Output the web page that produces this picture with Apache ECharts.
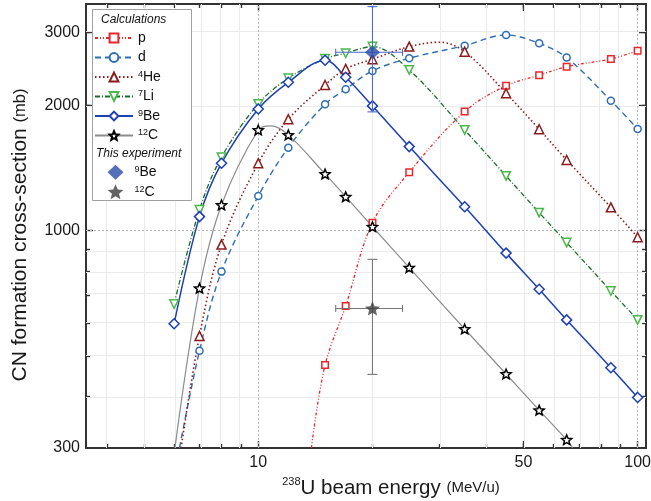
<!DOCTYPE html>
<html><head><meta charset="utf-8">
<script src="https://cdn.jsdelivr.net/npm/echarts@6/dist/echarts.min.js"></script>
<style>html,body{margin:0;padding:0;background:#fff}#c{width:651px;height:501px}</style>
</head><body><div id="c"></div>
<script>
// ---------- data ----------
// marker energies (MeV/u) and cross-sections (mb)
const pE  = [15,17,20,25,35,45,55,65,85,100];
const pV  = [475,659,1045,1382,1934,2232,2365,2481,2589,2711];
const dE  = [7,8,10,12,15,17,20,25,35,45,55,65,85,100];
const dV  = [514,797,1212,1584,2014,2189,2423,2599,2787,2957,2824,2608,2055,1757];
const heE = [7,8,10,12,15,17,20,25,35,45,55,65,85,100];
const heV = [558,926,1453,1854,2241,2450,2585,2772,2695,2141,1754,1479,1138,964];
const liE = [6,7,8,10,12,15,17,20,25,35,45,55,65,85,100];
const liV = [666,1123,1502,2018,2326,2590,2672,2772,2436,1747,1354,1105,936,716,610];
const beE = [6,7,8,10,12,15,17,20,25,35,45,55,65,85,100];
const beV = [597,1081,1453,1963,2275,2571,2339,1996,1593,1142,883,723,610,468,397];
const cE  = [7,8,10,12,15,17,20,25,35,45,55,65];
const cV  = [727,1153,1747,1700,1369,1207,1022,815,580,452,370,314];
// extra points on the calculated curves (no marker)
const pCurveE  = [13.8];      const pCurveV  = [300];
const dCurveE  = [6.2];       const dCurveV  = [300];
const heCurveE = [6.26, 30];  const heCurveV = [300, 2840];
const cCurveE  = [6.03, 10.8, 67.5]; const cCurveV = [300, 1786, 300];
// this experiment: energy, value, energy range, value range
const exBeE = 20, exBeV = 2686, exBeELo = 16, exBeEHi = 24, exBeVLo = 1931, exBeVHi = 3460;
const exCE  = 20, exCV  = 650,  exCELo  = 16, exCEHi  = 24, exCVLo  = 451,  exCVHi  = 853;
// ticks
const xLabelTicks = [10, 50, 100];
const xMinorTicks = [4,5,6,7,8,9,20,30,40,50,60,70,80,90];
const xDottedGrid = [10, 100];
const yLabelTicks = [300, 1000, 2000, 3000];
const yMajorTicks = [1000, 2000, 3000];
const yMinorTicks = [400,500,600,700,800,900,2000,3000];
const yDottedGrid = [1000];
const xRange = [3.515, 105.2];
const yRange = [300, 3510];

// ---------- chart ----------
const L = v => Math.log10(v);
const F = 'Liberation Sans, Arial, Helvetica, sans-serif';
const STAR = 'path://M0,-10L2.645,-3.641L9.511,-3.09L4.28,1.391L5.878,8.09L0,4.5L-5.878,8.09L-4.28,1.391L-9.511,-3.09L-2.645,-3.641Z';
const fmt = v => String(Math.round(Math.pow(10, v)));

function pts(E, V, cE2, cV2) {
  const a = E.map((e, i) => ({ value: [L(e), L(V[i])] }));
  (cE2 || []).forEach((e, i) => a.push({ value: [L(e), L(cV2[i])], symbol: 'none' }));
  a.sort((u, w) => u.value[0] - w.value[0]);
  return a;
}
function calc(name, data, sym, size, color, lineColor, lineType, lineWidth, rot) {
  return {
    name, type: 'line', data, symbol: sym, symbolSize: size, symbolRotate: rot || 0,
    symbolKeepAspect: true, showAllSymbol: true, smooth: 0.35,
    xAxisIndex: 0, yAxisIndex: 0, z: 3,
    itemStyle: { color: '#fff', borderColor: color, borderWidth: 1.5 },
    lineStyle: { color: lineColor, type: lineType, width: lineWidth },
    emphasis: { disabled: true }
  };
}
function errBar(name, color, rec) {
  return {
    name, type: 'custom', xAxisIndex: 0, yAxisIndex: 0, z: 6, silent: true, clip: false,
    data: [rec],
    renderItem: (params, api) => {
      const xv = api.value(0), yv = api.value(1);
      const c = api.coord([xv, yv]);
      const xl = api.coord([api.value(2), yv]), xh = api.coord([api.value(3), yv]);
      const yl = api.coord([xv, api.value(4)]), yh = api.coord([xv, api.value(5)]);
      const seg = (x1, y1, x2, y2) => ({ type: 'polyline', shape: { points: [[x1, y1], [x2, y2]] },
        style: { stroke: color, lineWidth: 1.1, fill: null } });
      return { type: 'group', children: [
        seg(xl[0], c[1], xh[0], c[1]),
        seg(c[0], yl[1], c[0], yh[1]),
        seg(c[0] - 5, yl[1], c[0] + 5, yl[1]), seg(c[0] - 5, yh[1], c[0] + 5, yh[1]),
        seg(xl[0], c[1] - 3.5, xl[0], c[1] + 3.5), seg(xh[0], c[1] - 3.5, xh[0], c[1] + 3.5)
      ] };
    }
  };
}

const X0 = L(xRange[0]), X1 = L(xRange[1]), Y0 = L(yRange[0]), Y1 = L(yRange[1]);
const AX = { color: '#333', width: 2 };
const TK = { color: '#333', width: 1.4 };
function xAx(pos, ticks, len, withLine, labels) {
  return { type: 'value', position: pos, min: X0, max: X1, gridIndex: 0,
    axisLine: { show: withLine, onZero: false, lineStyle: AX },
    axisTick: { show: true, inside: true, length: len, customValues: ticks.map(L), lineStyle: TK },
    axisLabel: labels ? { show: true, customValues: labels.map(L), formatter: fmt, fontSize: 16, fontFamily: F, color: '#1a1a1a', margin: 7 } : { show: false },
    splitLine: { show: false }, minorTick: { show: false } };
}
function yAx(pos, ticks, len, withLine, labels) {
  return { type: 'value', position: pos, min: Y0, max: Y1, gridIndex: 0,
    axisLine: { show: withLine, onZero: false, lineStyle: AX },
    axisTick: { show: true, inside: true, length: len, customValues: ticks.map(L), lineStyle: TK },
    axisLabel: labels ? { show: true, customValues: labels.map(L), formatter: fmt, fontSize: 16, fontFamily: F, color: '#1a1a1a', margin: 6 } : { show: false },
    splitLine: { show: false }, minorTick: { show: false } };
}

const gridLines = [];
xMinorTicks.forEach(v => gridLines.push({ xAxis: L(v), lineStyle: { color: '#ebebeb', type: 'solid', width: 1 } }));
yMinorTicks.forEach(v => gridLines.push({ yAxis: L(v), lineStyle: { color: '#ebebeb', type: 'solid', width: 1 } }));
xDottedGrid.forEach(v => gridLines.push({ xAxis: L(v), lineStyle: { color: '#b5b5b5', type: [2, 2], width: 1 } }));
yDottedGrid.forEach(v => gridLines.push({ yAxis: L(v), lineStyle: { color: '#b5b5b5', type: [2, 2], width: 1 } }));

const legendNames = {
  p: '{n|p}', d: '{n|d}', '4He': '{s|4}{n|He}', '7Li': '{s|7}{n|Li}', '9Be': '{s|9}{n|Be}', '12C': '{s|12}{n|C}',
  exp9Be: '{g|}{s|9}{n|Be}', exp12C: '{g|}{s|12}{n|C}'
};
const legText = { fontFamily: F, color: '#111', fontSize: 14, lineHeight: 14,
  rich: { n: { fontSize: 14, lineHeight: 14, fontFamily: F, color: '#111' },
          s: { fontSize: 9, lineHeight: 8, verticalAlign: 'top', fontFamily: F, color: '#111' },
          g: { width: 6, lineHeight: 14 } } };

const option = {
  animation: false,
  backgroundColor: '#fff',
  grid: { left: 86, right: 5, top: 4, bottom: 53, outerBoundsMode: 'none', containLabel: false },
  xAxis: [ xAx('bottom', xLabelTicks, 7, true, xLabelTicks), xAx('bottom', xMinorTicks, 4, false, null),
           xAx('top', xLabelTicks, 7, true, null), xAx('top', xMinorTicks, 4, false, null) ],
  yAxis: [ yAx('left', yMajorTicks, 7, true, yLabelTicks), yAx('left', yMinorTicks, 4, false, null),
           yAx('right', yMajorTicks, 7, true, null), yAx('right', yMinorTicks, 4, false, null) ],
  legend: [
    { data: ['p', 'd', '4He', '7Li', '9Be', '12C'], orient: 'vertical', left: 94, top: 31, padding: 0,
      itemWidth: 38, itemHeight: 11, itemGap: 5.5, selectedMode: false, z: 6,
      formatter: n => legendNames[n], textStyle: legText },
    { data: ['exp9Be', 'exp12C'], orient: 'vertical', left: 107.5, top: 164.8, padding: 0,
      itemWidth: 16, itemHeight: 15, itemGap: 4.4, selectedMode: false, z: 6,
      formatter: n => legendNames[n], textStyle: legText }
  ],
  graphic: [
    { type: 'rect', z: 5, shape: { x: 92.5, y: 9.5, width: 99, height: 191 }, style: { fill: '#fff', stroke: '#a0a0a0', lineWidth: 1 } },
    { type: 'text', z: 7, x: 101, y: 20, style: { text: 'Calculations', fontFamily: F, fontSize: 12, fontStyle: 'italic', fill: '#111', align: 'left', verticalAlign: 'middle' } },
    { type: 'text', z: 7, x: 96, y: 153.5, style: { text: 'This experiment', fontFamily: F, fontSize: 12, fontStyle: 'italic', fill: '#111', align: 'left', verticalAlign: 'middle' } },
    { type: 'text', z: 7, x: 391, y: 488, style: { text: '{s|238}{t|U beam energy }{m|(MeV/u)}', align: 'center', verticalAlign: 'middle',
        rich: { t: { fontSize: 20.5, lineHeight: 24, fontFamily: F, fill: '#1a1a1a' }, m: { fontSize: 15, lineHeight: 24, fontFamily: F, fill: '#1a1a1a' },
                s: { fontSize: 11, lineHeight: 14, verticalAlign: 'top', fontFamily: F, fill: '#1a1a1a' } } } },
    { type: 'text', z: 7, x: 20, y: 235, rotation: Math.PI / 2, style: { text: '{t|CN formation cross-section }{m|(mb)}', align: 'center', verticalAlign: 'middle',
        rich: { t: { fontSize: 21, lineHeight: 24, fontFamily: F, fill: '#1a1a1a' }, m: { fontSize: 16.5, lineHeight: 24, fontFamily: F, fill: '#1a1a1a' } } } }
  ],
  series: [
    { name: 'grid', type: 'line', data: [[L(10), L(1000)]], showSymbol: false, symbol: 'none', lineStyle: { width: 0 }, z: 1, silent: true,
      markLine: { z: 1, silent: true, symbol: ['none', 'none'], label: { show: false }, animation: false, data: gridLines } },
    calc('p',   pts(pE, pV, pCurveE, pCurveV),    'rect',     6.5, '#e8262a', '#e8262a', [3, 2, 1, 2, 1, 2], 1.3),
    calc('d',   pts(dE, dV, dCurveE, dCurveV),    'circle',   7,   '#2f6db5', '#2f6db5', [6, 4], 1.4),
    calc('4He', pts(heE, heV, heCurveE, heCurveV), 'triangle', 9,  '#8b1c1c', '#8b1c1c', [1.5, 2.5], 1.6),
    calc('7Li', pts(liE, liV),                    'triangle', 8.5, '#4cb84c', '#1b6e2a', [5, 2, 1, 2], 1.3, 180),
    calc('9Be', pts(beE, beV),                    'diamond',  10,  '#1d3fb8', '#1d3fb8', 'solid', 1.5),
    calc('12C', pts(cE, cV, cCurveE, cCurveV),    STAR,       10,  '#000',    '#8c8c8c', 'solid', 1.2),
    errBar('err9Be', '#4b6cd0', [L(exBeE), L(exBeV), L(exBeELo), L(exBeEHi), L(exBeVLo), L(exBeVHi)]),
    errBar('err12C', '#777', [L(exCE), L(exCV), L(exCELo), L(exCEHi), L(exCVLo), L(exCVHi)]),
    { name: 'exp9Be', type: 'scatter', data: [[L(exBeE), L(exBeV)]], symbol: 'diamond', symbolSize: [15, 14], z: 7,
      itemStyle: { color: '#2a4ca8' } },
    { name: 'exp12C', type: 'scatter', data: [[L(exCE), L(exCV)]], symbol: STAR, symbolSize: 15, symbolKeepAspect: true, z: 7,
      itemStyle: { color: '#3d3d3d' } }
  ]
};
const chart = echarts.init(document.getElementById('c'), null, { renderer: 'canvas' });
chart.setOption(option);
</script></body></html>
